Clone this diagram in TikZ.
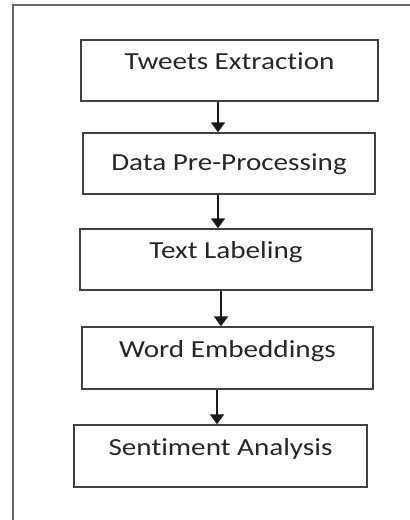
\documentclass[tikz,border=0pt]{standalone}
\usepackage{fontspec}
\setmainfont{Carlito}[FakeStretch=1.19,Ligatures=NoCommon]
\usetikzlibrary{arrows.meta}
\begin{document}
\begin{tikzpicture}[x=1pt,y=-1pt,
  stepbox/.style={draw=black!75,line width=1.4pt,inner sep=0pt,
    text=black!85,font=\fontsize{24.5}{28}\selectfont,
    text height=16pt,text depth=18pt},
  flow/.style={line width=2pt,black!90,-{Triangle[width=14pt,length=10pt]}},
  frame/.style={draw=black!60,line width=1.6pt}]
\useasboundingbox (0,0) rectangle (410,520);
\coordinate (fc) at (13,5);
\draw[frame] (fc |- 0,521) -- (fc) -- (411,5);
\node[stepbox,minimum width=297pt,minimum height=61pt] (b1) at (229.5,70.5) {Tweets Extraction};
\node[stepbox,minimum width=292pt,minimum height=61pt,text depth=3pt] (b2) at (229,163.5) {Data Pre-Processing};
\node[stepbox,minimum width=292pt,minimum height=61pt] (b3) at (226,259.5) {Text Labeling};
\node[stepbox,minimum width=291pt,minimum height=62pt] (b4) at (227.5,358) {Word Embeddings};
\node[stepbox,minimum width=293pt,minimum height=62pt] (b5) at (220.5,456) {Sentiment Analysis};
\coordinate (x1) at (218,0);
\coordinate (x2) at (218,0);
\coordinate (x3) at (221,0);
\coordinate (x4) at (217,0);
\draw[flow] (b1.south -| x1) -- (b2.north -| x1);
\draw[flow] (b2.south -| x2) -- (b3.north -| x2);
\draw[flow] (b3.south -| x3) -- (b4.north -| x3);
\draw[flow] (b4.south -| x4) -- (b5.north -| x4);
\end{tikzpicture}
\end{document}
